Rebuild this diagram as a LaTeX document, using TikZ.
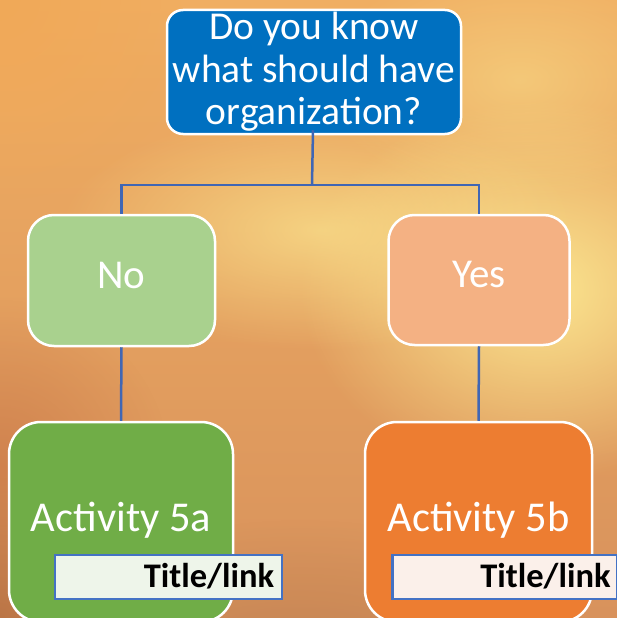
\documentclass[tikz,border=0pt]{standalone}
\usepackage{fontspec}
\setmainfont{Carlito}
\usetikzlibrary{fadings}
\tikzfading[name=glowfade, inner color=transparent!0, outer color=transparent!100]
\definecolor{bgtop}{HTML}{F0AE62}
\definecolor{bgmid}{HTML}{F8D27A}
\definecolor{bgbot}{HTML}{D8925C}
\definecolor{glowy}{HTML}{FBE690}
\definecolor{darkor}{HTML}{D0824E}
\definecolor{topblue}{HTML}{0070C0}
\definecolor{nogreen}{HTML}{A9D18E}
\definecolor{yesorange}{HTML}{F4B183}
\definecolor{actgreen}{HTML}{70AD47}
\definecolor{actorange}{HTML}{ED7D31}
\definecolor{linkblue}{HTML}{4472C4}
\definecolor{conblue}{HTML}{4066B4}
\definecolor{tlgreen}{HTML}{EEF5EA}
\definecolor{tlorange}{HTML}{FBF0EA}
\tikzset{
  box/.style={draw=white, line width=2.5pt, text=white, align=center, inner sep=0pt},
  conn/.style={draw=conblue, line width=2.5pt},
  titlebox/.style={draw=linkblue, line width=2.5pt, inner sep=0pt, minimum height=44pt},
  titletext/.style={inner sep=0pt, font=\fontsize{34.5}{36}\selectfont\bfseries, text=black},
}
\begin{document}
\begin{tikzpicture}[x=1pt,y=-1pt]
\useasboundingbox (0,0) rectangle (617,618);
\begin{scope}
\clip (0,0) rectangle (617,618);
\shade[top color=bgtop, middle color=bgmid, bottom color=bgbot] (0,0) rectangle (617,618);
\fill[glowy, path fading=glowfade] (540,290) ellipse (240 and 190);
\fill[glowy, opacity=0.7, path fading=glowfade] (320,230) ellipse (260 and 120);
\fill[glowy, opacity=0.5, path fading=glowfade] (520,80) ellipse (200 and 120);
\fill[darkor, path fading=glowfade] (0,470) circle (170);
\fill[darkor!90!black, path fading=glowfade] (0,618) circle (140);
\fill[bgtop!90!orange, path fading=glowfade] (0,0) circle (200);
\fill[bgbot!90!black, path fading=glowfade] (300,680) ellipse (300 and 160);

\node[box, fill=topblue, rounded corners=16pt, minimum width=294pt, minimum height=124pt,
  font=\fontsize{39.5}{42.5}\selectfont] (top) at (314,72) {Do you know\\what should have\\organization?};
\node[box, fill=nogreen, rounded corners=26pt, minimum width=187pt, minimum height=131pt,
  font=\fontsize{41}{44}\selectfont] (no) at (121.5,280.5) {\raisebox{11pt}{No}};
\node[box, fill=yesorange, rounded corners=26pt, minimum width=181pt, minimum height=130pt,
  font=\fontsize{41}{44}\selectfont] (yes) at (479,280) {\raisebox{11pt}{Yes}};
\node[box, fill=actgreen, rounded corners=32pt, minimum width=224pt, minimum height=200pt,
  font=\fontsize{42.5}{44}\selectfont] (acta) at (121,522) {\raisebox{10pt}{Activity 5a}};
\node[box, fill=actorange, rounded corners=32pt, minimum width=227pt, minimum height=200pt,
  font=\fontsize{42.5}{44}\selectfont] (actb) at (478.5,522) {\raisebox{10pt}{Activity 5b}};

\node[titlebox, fill=tlgreen, minimum width=227pt] (tla) at (168.5,577) {};
\node[titletext, anchor=east] (tlat) at ([xshift=-9pt,yshift=1pt]tla.east) {Title/link};
\node[titlebox, fill=tlorange, minimum width=225pt] (tlb) at (505,577) {};
\node[titletext, anchor=east] (tlbt) at ([xshift=-8pt,yshift=1pt]tlb.east) {Title/link};

\coordinate (j) at (312,185);
\path[conn] ([xshift=-1pt,yshift=5pt]top.south) -- (j);
\path[conn] (j) -| (no.north);
\path[conn] (j) -| (yes.north);
\path[conn] (no.south) -- (acta.north);
\path[conn] (yes.south) -- (actb.north);
\end{scope}
\end{tikzpicture}
\end{document}
